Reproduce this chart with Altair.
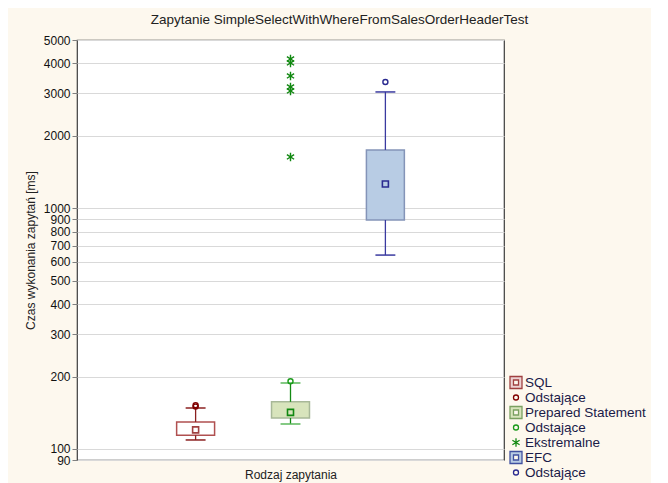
import altair as alt
import pandas as pd

# ---------------- data ----------------
categories = ["SQL", "Prepared Statement", "EFC"]
box_low = [114, 134.5, 894]        # lower edge of box
box_high = [129.5, 157, 1747]      # upper edge of box
center_value = [120, 142, 1262]    # square marker inside box
whisker_low = [109, 127, 639]
whisker_high = [148, 188, 3042]

sql_outliers = [150, 152]
ps_outliers = [191]
ps_extremes = [4170, 4015, 3545, 3190, 3070, 1633]
efc_outliers = [3346]

legend_keys = ["SQL", "Odstające", "Prepared Statement", "Odstające ", "Ekstremalne", "EFC", "Odstające  "]
y_ticks = [90, 100, 200, 300, 400, 500, 600, 700, 800, 900, 1000, 2000, 3000, 4000, 5000]

# ---------------- tables ----------------
box_df = pd.DataFrame({
    "cat": categories,
    "pos": [i + 1 for i in range(len(categories))],
    "lo": box_low, "hi": box_high, "mid": center_value,
    "wlo": whisker_low, "whi": whisker_high,
})

pts = []
for v in sql_outliers:
    pts.append({"pos": 1, "value": v, "key": legend_keys[1]})
for v in ps_outliers:
    pts.append({"pos": 2, "value": v, "key": legend_keys[3]})
for v in ps_extremes:
    pts.append({"pos": 2, "value": v, "key": legend_keys[4]})
for v in efc_outliers:
    pts.append({"pos": 3, "value": v, "key": legend_keys[6]})
pts_df = pd.DataFrame(pts)

# ---------------- styles ----------------
box_fill = ["#ffffff", "#d8e4bc", "#b8cce4"]
box_stroke = ["#b05050", "#a8b898", "#8494b8"]
whisker_col = ["#8b2020", "#138a13", "#3a3aa0"]
cap_col = ["#8b2020", "#5cb85c", "#3a3aa0"]
mid_col = ["#a04040", "#118811", "#2a2a90"]

BOX_PATH = "M-1,-1H1V1H-1Z M-0.42,-0.42V0.42H0.42V-0.42Z"
CIRCLE_PATH = "M-0.42,0A0.42,0.42 0 1,0 0.42,0A0.42,0.42 0 1,0 -0.42,0Z"
STAR_PATH = "M0,-0.7V0.7M-0.6,-0.38L0.6,0.38M-0.6,0.38L0.6,-0.38"

legend_shapes = [BOX_PATH, CIRCLE_PATH, BOX_PATH, CIRCLE_PATH, STAR_PATH, BOX_PATH, CIRCLE_PATH]
legend_fill = ["#ecd2d2", "transparent", "#d8e4bc", "transparent", "transparent", "#b8cce4", "transparent"]
legend_stroke = ["#a04040", "#800000", "#7aa060", "#1a9a1a", "#118811", "#4050a0", "#2a2a90"]

x_scale = alt.Scale(domain=[-0.25, 4.25], nice=False, zero=False)
y_scale = alt.Scale(type="log", domain=[90, 5000], nice=False)
x_axis = alt.Axis(labels=False, ticks=False, domain=False, grid=False,
                  title="Rodzaj zapytania", titlePadding=9)
y_axis = alt.Axis(values=y_ticks, format="d", title="Czas wykonania zapytań [ms]",
                  grid=True, gridColor="#d9d9d9", tickColor="#808080", tickSize=5,
                  domain=False, labelPadding=2, titlePadding=6, labelFlush=False,
                  labelOverlap=False)

base = alt.Chart(box_df)
cat_sc = lambda rng: alt.Scale(domain=categories, range=rng)

box = base.mark_rect(strokeWidth=1.5).transform_calculate(
    x1="datum.pos - 0.2", x2="datum.pos + 0.2"
).encode(
    x=alt.X("x1:Q", scale=x_scale, axis=x_axis),
    x2="x2:Q",
    y=alt.Y("lo:Q", scale=y_scale, axis=y_axis),
    y2="hi:Q",
    fill=alt.Fill("cat:N", scale=cat_sc(box_fill), legend=None),
    stroke=alt.Stroke("cat:N", scale=cat_sc(box_stroke), legend=None),
)

wh_up = base.mark_rule(strokeWidth=1.3).encode(
    x=alt.X("pos:Q", scale=x_scale, axis=x_axis),
    y=alt.Y("hi:Q", scale=y_scale, axis=y_axis), y2="whi:Q",
    color=alt.Color("cat:N", scale=cat_sc(whisker_col), legend=None),
)
wh_dn = base.mark_rule(strokeWidth=1.3).encode(
    x=alt.X("pos:Q", scale=x_scale, axis=x_axis),
    y=alt.Y("wlo:Q", scale=y_scale, axis=y_axis), y2="lo:Q",
    color=alt.Color("cat:N", scale=cat_sc(whisker_col), legend=None),
)
cap_up = base.mark_rule(strokeWidth=1.5).transform_calculate(
    c1="datum.pos - 0.105", c2="datum.pos + 0.105"
).encode(
    x=alt.X("c1:Q", scale=x_scale, axis=x_axis), x2="c2:Q",
    y=alt.Y("whi:Q", scale=y_scale, axis=y_axis),
    color=alt.Color("cat:N", scale=cat_sc(cap_col), legend=None),
)
cap_dn = base.mark_rule(strokeWidth=1.5).transform_calculate(
    c1="datum.pos - 0.105", c2="datum.pos + 0.105"
).encode(
    x=alt.X("c1:Q", scale=x_scale, axis=x_axis), x2="c2:Q",
    y=alt.Y("wlo:Q", scale=y_scale, axis=y_axis),
    color=alt.Color("cat:N", scale=cat_sc(cap_col), legend=None),
)
mid = base.mark_point(shape="square", size=36, filled=False, strokeWidth=1.6, opacity=1).encode(
    x=alt.X("pos:Q", scale=x_scale, axis=x_axis),
    y=alt.Y("mid:Q", scale=y_scale, axis=y_axis),
    color=alt.Color("cat:N", scale=cat_sc(mid_col), legend=None),
)

lk = lambda rng: alt.Scale(domain=legend_keys, range=rng)
points = alt.Chart(pts_df).mark_point(filled=True, size=144, strokeWidth=1.4, opacity=1).encode(
    x=alt.X("pos:Q", scale=x_scale, axis=x_axis),
    y=alt.Y("value:Q", scale=y_scale, axis=y_axis),
    shape=alt.Shape("key:N", scale=lk(legend_shapes), title=None),
    fill=alt.Fill("key:N", scale=lk(legend_fill), title=None),
    stroke=alt.Stroke("key:N", scale=lk(legend_stroke), title=None),
)

chart = alt.layer(box, wh_up, wh_dn, cap_up, cap_dn, mid, points).resolve_scale(
    fill="independent", stroke="independent", color="independent", shape="independent"
).properties(
    width=427, height=420,
    title=alt.TitleParams("Zapytanie SimpleSelectWithWhereFromSalesOrderHeaderTest",
                          fontSize=13.5, fontWeight="normal", font="Liberation Sans",
                          color="#222222", anchor="middle", dx=49, offset=8),
    padding={"left": 69, "top": 32, "right": 147, "bottom": 23},
    autosize=alt.AutoSizeParams(type="none"),
    background="#fdf8ee",
).configure_view(
    fill="white", stroke="#3c3c3c", strokeWidth=1.2
).configure_axis(
    labelFont="Liberation Sans", labelFontSize=12, labelColor="#111111",
    titleFont="Liberation Sans", titleFontSize=12, titleFontWeight="normal", titleColor="#222222",
).configure_legend(
    orient="none", legendX=432, legendY=335,
    labelFont="Liberation Sans", labelFontSize=13.5, labelColor="#1a1a48",
    symbolSize=144, symbolStrokeWidth=1.3, rowPadding=0, labelOffset=2,
    clipHeight=15,
)

chart.save("out.html", embed_options={"renderer": "svg", "actions": False})
